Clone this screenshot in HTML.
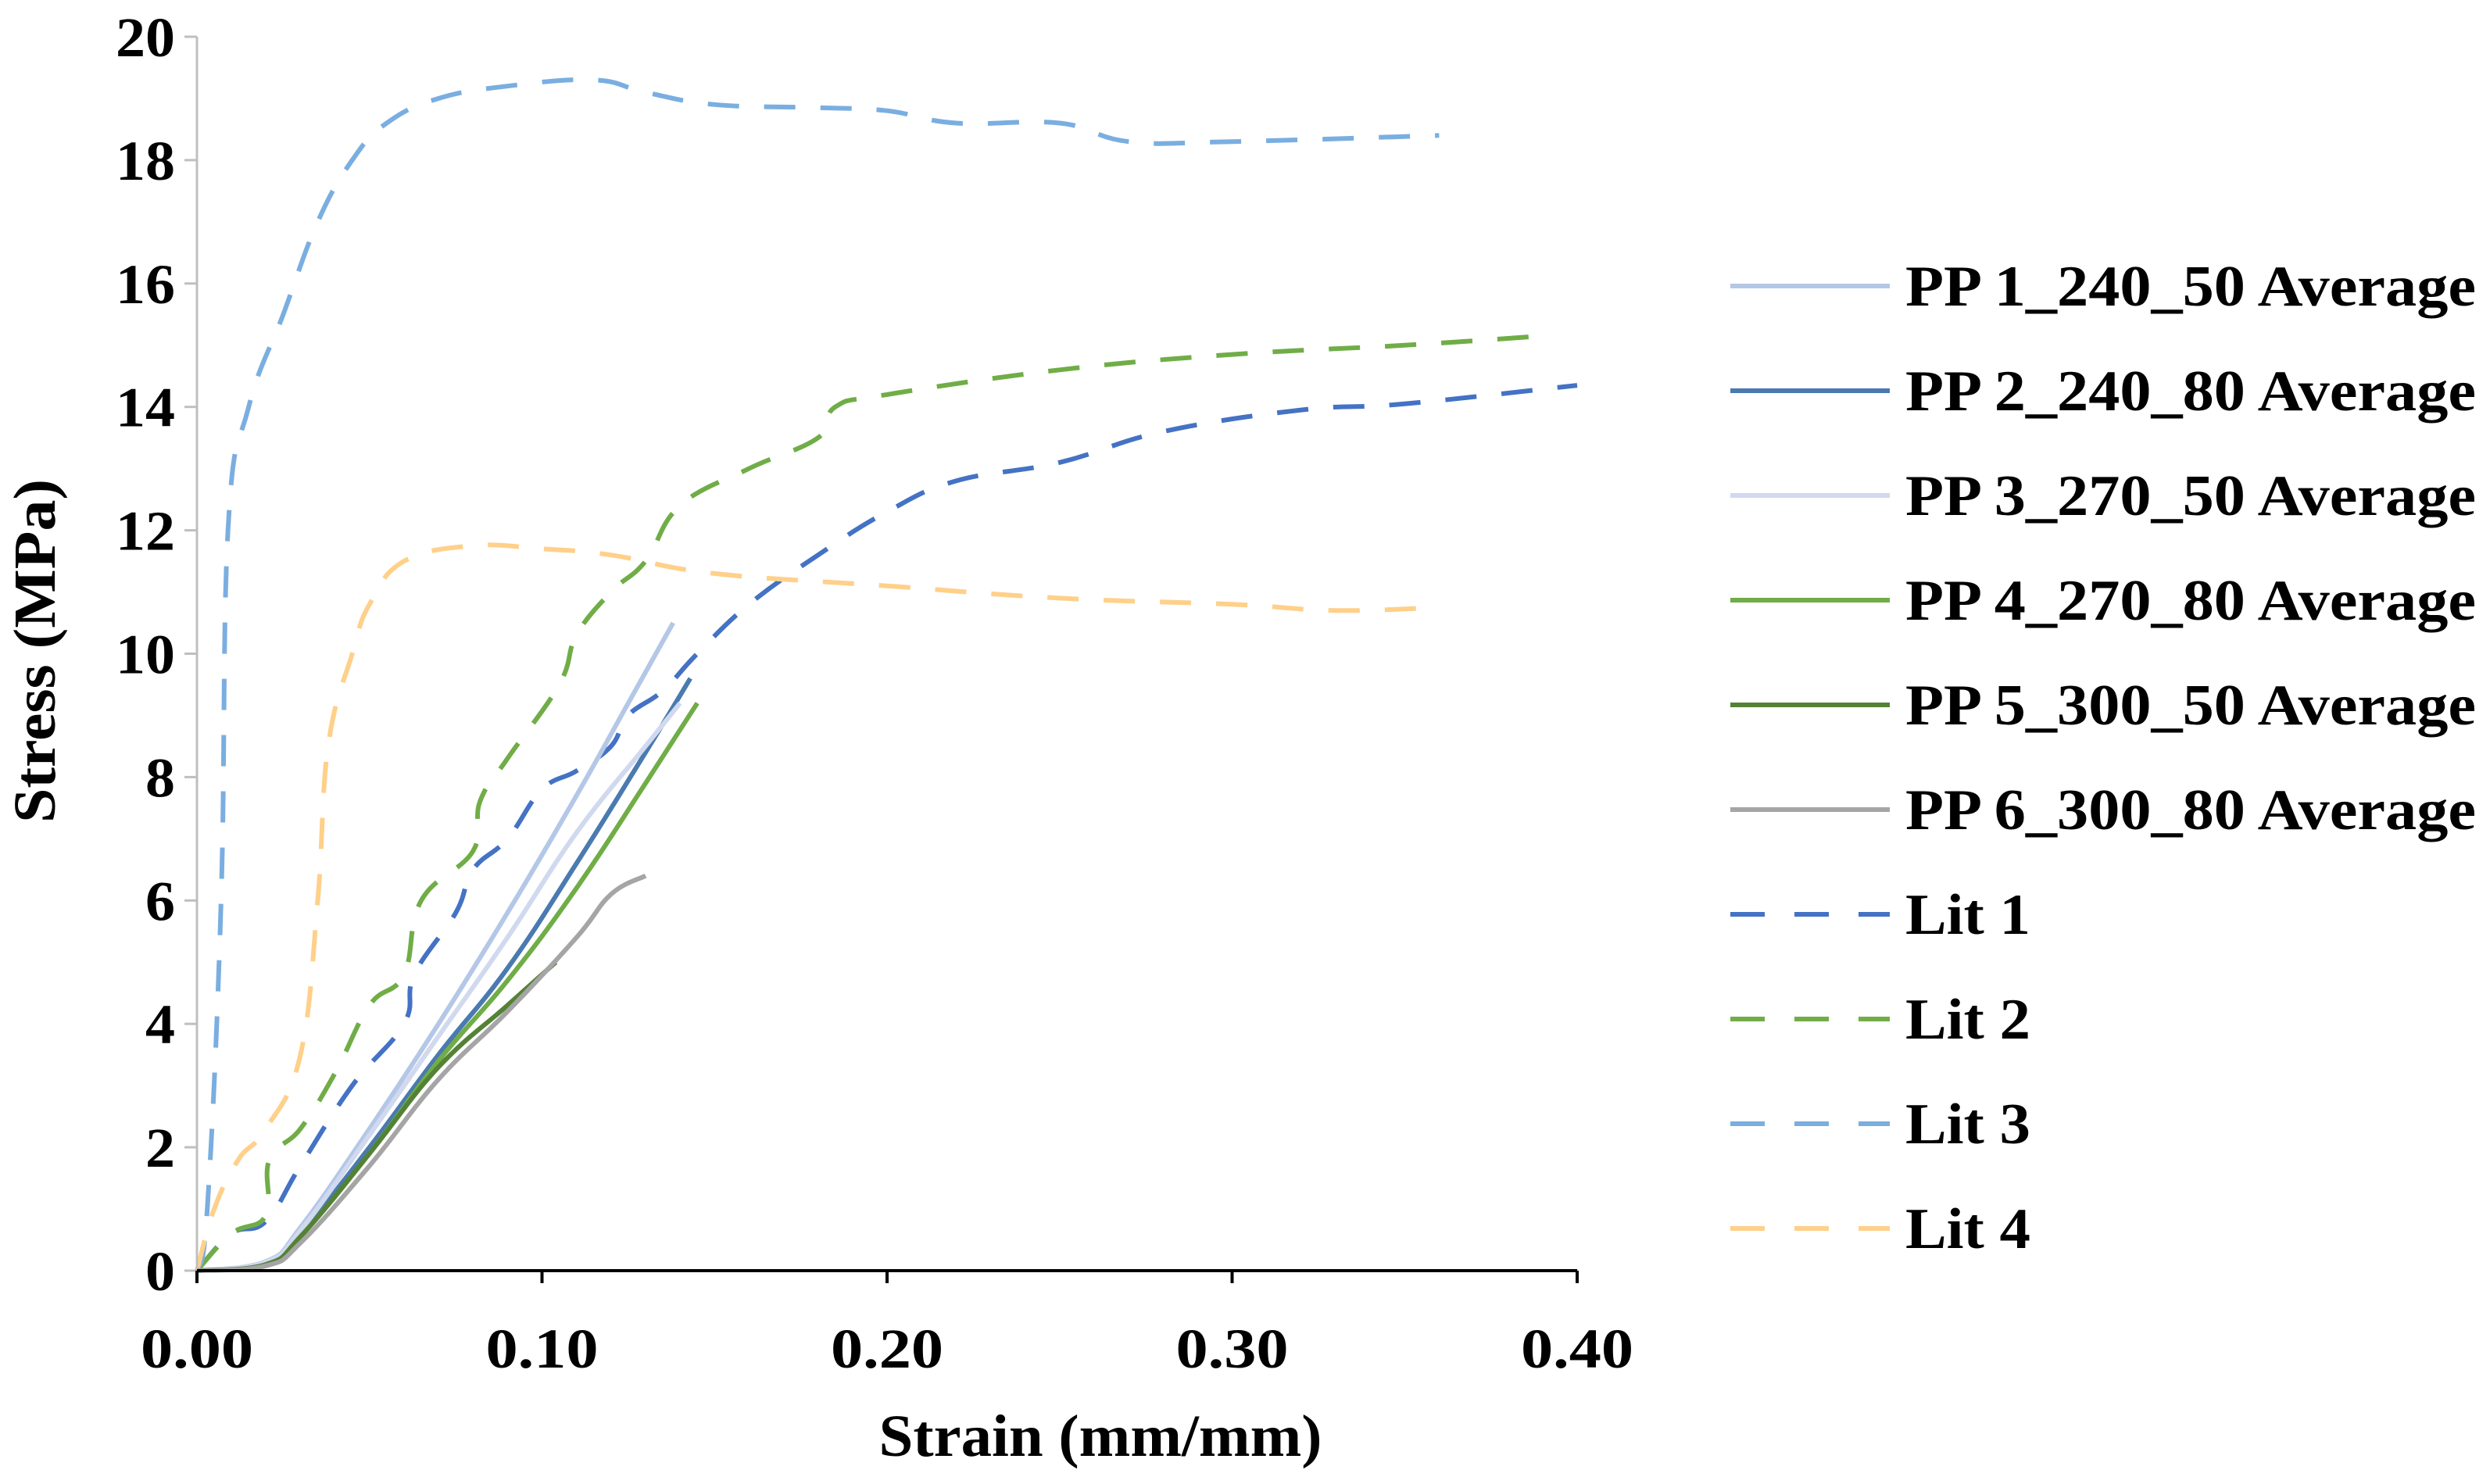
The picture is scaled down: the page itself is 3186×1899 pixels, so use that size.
<!DOCTYPE html>
<html><head><meta charset="utf-8"><style>
html,body{margin:0;padding:0;background:#fff;}
svg{display:block;font-family:"Liberation Serif",serif;font-weight:bold;}
</style></head><body>
<svg id="chart" width="3186" height="1899" viewBox="0 0 3186 1899">
<g id="plot"></g>
<g id="axes"></g>
<g id="legend"></g>
</svg>
<script>
const xTicks = [0, 0.1, 0.2, 0.3, 0.4];
const xTickLabels = ["0.00", "0.10", "0.20", "0.30", "0.40"];
const yTicks = [0, 2, 4, 6, 8, 10, 12, 14, 16, 18, 20];
const seriesNames = ["PP 1_240_50 Average","PP 2_240_80 Average","PP 3_270_50 Average","PP 4_270_80 Average","PP 5_300_50 Average","PP 6_300_80 Average","Lit 1","Lit 2","Lit 3","Lit 4"];
const pp1 = [[0,0],[0.02,0.15],[0.03,0.7],[0.05,2.3],[0.07,4.0],[0.09,5.8],[0.11,7.7],[0.125,9.2],[0.138,10.5]];
const pp2 = [[0,0],[0.02,0.12],[0.03,0.6],[0.05,2.0],[0.07,3.5],[0.09,4.9],[0.11,6.6],[0.13,8.4],[0.143,9.6]];
const pp3 = [[0,0],[0.02,0.14],[0.03,0.65],[0.05,2.2],[0.07,3.8],[0.09,5.4],[0.11,7.1],[0.13,8.5],[0.14,9.2]];
const pp4 = [[0,0],[0.02,0.1],[0.03,0.55],[0.05,1.9],[0.07,3.4],[0.09,4.7],[0.11,6.2],[0.13,7.9],[0.145,9.2]];
const pp5 = [[0,0],[0.02,0.1],[0.03,0.55],[0.05,1.9],[0.07,3.3],[0.09,4.3],[0.104,5.0]];
const pp6 = [[0,0],[0.02,0.08],[0.03,0.45],[0.05,1.7],[0.07,3.1],[0.09,4.2],[0.11,5.4],[0.12,6.1],[0.13,6.4]];
const lit1 = [[0,0],[0.01,0.6],[0.02,0.8],[0.03,1.7],[0.045,3],[0.06,4],[0.063,4.8],[0.075,5.8],[0.08,6.5],[0.09,7],[0.1,7.8],[0.11,8.1],[0.12,8.5],[0.125,9],[0.135,9.4],[0.145,10],[0.16,10.8],[0.18,11.6],[0.2,12.3],[0.22,12.8],[0.25,13.1],[0.28,13.6],[0.32,13.95],[0.35,14.05],[0.4,14.35]];
const lit2 = [[0,0],[0.01,0.6],[0.02,0.9],[0.021,1.8],[0.03,2.3],[0.04,3.2],[0.05,4.3],[0.06,4.8],[0.065,6],[0.08,6.8],[0.082,7.6],[0.09,8.3],[0.105,9.5],[0.11,10.3],[0.12,11],[0.13,11.5],[0.14,12.4],[0.16,13],[0.18,13.5],[0.185,14],[0.2,14.2],[0.25,14.6],[0.3,14.85],[0.35,15],[0.39,15.15]];
const lit3 = [[0,0],[0.003,1],[0.007,6],[0.009,12],[0.015,14],[0.025,15.5],[0.035,17],[0.045,18],[0.055,18.6],[0.07,19],[0.09,19.2],[0.115,19.3],[0.13,19.1],[0.15,18.9],[0.18,18.85],[0.2,18.8],[0.22,18.6],[0.25,18.6],[0.27,18.3],[0.3,18.3],[0.36,18.4]];
const lit4 = [[0,0],[0.005,1],[0.012,1.8],[0.02,2.3],[0.03,3.5],[0.035,6],[0.038,8.5],[0.045,10],[0.05,10.8],[0.06,11.5],[0.08,11.75],[0.1,11.7],[0.12,11.6],[0.15,11.3],[0.2,11.1],[0.25,10.9],[0.3,10.8],[0.33,10.7],[0.36,10.75]];

const NS = "http://www.w3.org/2000/svg";
const X0 = 252, X1 = 2018, Y0 = 1626, Y1 = 47;
const xs = v => X0 + v / 0.4 * (X1 - X0);
const ys = v => Y0 - v / 20 * (Y0 - Y1);
function mk(tag, attrs, parent) { const e = document.createElementNS(NS, tag); for (const k in attrs) e.setAttribute(k, attrs[k]); parent.appendChild(e); return e; }
function smooth(pts) {
  const p = pts.map(q => [xs(q[0]), ys(q[1])]);
  let d = 'M' + p[0][0].toFixed(1) + ',' + p[0][1].toFixed(1);
  for (let i = 0; i < p.length - 1; i++) {
    const a = p[i - 1] || p[i], b = p[i], c = p[i + 1], e = p[i + 2] || c;
    const t = 0.2;
    const c1 = [b[0] + (c[0] - a[0]) * t, b[1] + (c[1] - a[1]) * t];
    const c2 = [c[0] - (e[0] - b[0]) * t, c[1] - (e[1] - b[1]) * t];
    d += ' C' + c1[0].toFixed(1) + ',' + c1[1].toFixed(1) + ' ' + c2[0].toFixed(1) + ',' + c2[1].toFixed(1) + ' ' + c[0].toFixed(1) + ',' + c[1].toFixed(1);
  }
  return d;
}

const plot = document.getElementById('plot');
const axes = document.getElementById('axes');
const legend = document.getElementById('legend');
const data = [pp1, pp2, pp3, pp4, pp5, pp6, lit1, lit2, lit3, lit4];
const colors = ["#b4c7e7","#4a7ab0","#d0d9ee","#70ad47","#548235","#a5a5a5","#4472c4","#70ad47","#7aaee0","#ffd08a"];
const dashed = [false,false,false,false,false,false,true,true,true,true];

const yAxis = mk('line', {x1: X0, y1: Y1, x2: X0, y2: Y0, stroke: '#bfbfbf', 'stroke-width': 3}, axes);


yTicks.forEach(t => {
  const tk = mk('line', {x1: X0 - 16, y1: ys(t), x2: X0, y2: ys(t), stroke: '#bfbfbf', 'stroke-width': 3}, axes);
  
  
  const s = String(t);
  const lb = mk('text', {x: 224, y: ys(t) + 25, 'text-anchor': 'end', 'font-size': 72, textLength: s.length * 38, lengthAdjust: 'spacingAndGlyphs'}, axes);
  lb.textContent = s;
  
  
});
const xAxis = mk('line', {x1: X0, y1: Y0, x2: X1, y2: Y0, stroke: '#000', 'stroke-width': 4}, axes);


xTicks.forEach((t, i) => {
  const tk = mk('line', {x1: xs(t), y1: Y0, x2: xs(t), y2: Y0 + 16, stroke: '#000', 'stroke-width': 4}, axes);
  
  
  const lb = mk('text', {x: xs(t), y: 1750, 'text-anchor': 'middle', 'font-size': 72, textLength: 144, lengthAdjust: 'spacingAndGlyphs'}, axes);
  lb.textContent = xTickLabels[i];
  
  
});
const xt = mk('text', {x: 1408, y: 1863, 'text-anchor': 'middle', 'font-size': 76, textLength: 567, lengthAdjust: 'spacingAndGlyphs'}, axes);
xt.textContent = "Strain (mm/mm)";


const yt = mk('text', {x: 0, y: 0, 'text-anchor': 'middle', 'font-size': 76, textLength: 440, lengthAdjust: 'spacingAndGlyphs', transform: 'translate(70,833) rotate(-90)'}, axes);
yt.textContent = "Stress (MPa)";



const order = [6,7,8,9,0,1,2,3,4,5];
order.forEach(i => {
  const a = {d: smooth(data[i]), fill: 'none', stroke: colors[i], 'stroke-width': 6, 'stroke-linejoin': 'round'};
  if (dashed[i]) a['stroke-dasharray'] = '40 32';
  const p = mk('path', a, plot);
  
  
});

seriesNames.forEach((n, i) => {
  const y = 366 + i * 134;
  const la = {x1: 2214, y1: y, x2: 2418, y2: y, stroke: colors[i], 'stroke-width': 6};
  if (dashed[i]) la['stroke-dasharray'] = '44 38';
  const ln = mk('line', la, legend);
  
  
  const ta = {x: 2438, y: y + 25, 'font-size': 74, lengthAdjust: 'spacingAndGlyphs'};
  ta.textLength = dashed[i] ? 160 : 730;
  const tx = mk('text', ta, legend);
  tx.textContent = n;
  
  
});
</script>
</body></html>
